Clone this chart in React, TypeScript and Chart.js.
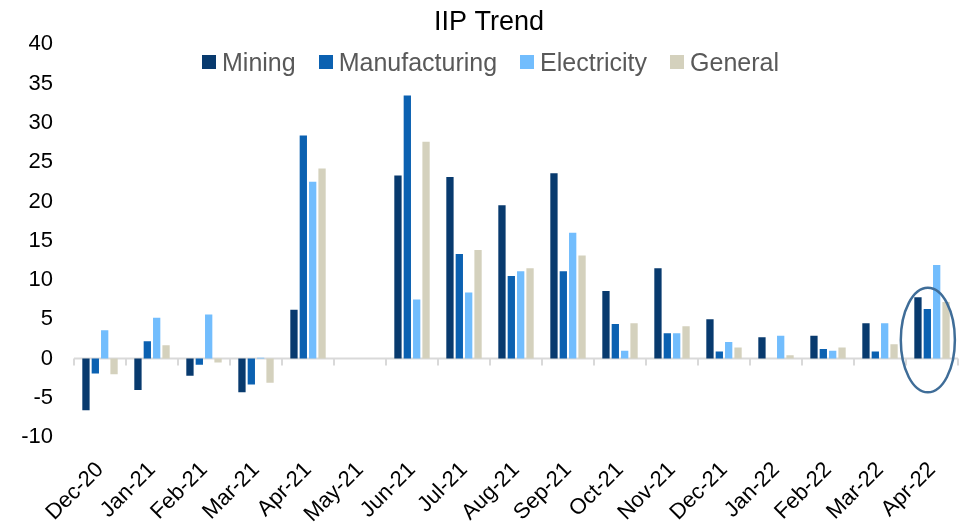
import React, { useEffect, useRef } from "react";
import { Chart, registerables } from "chart.js";

Chart.register(...registerables);

const TITLE = "IIP Trend";
const categories = [
  "Dec-20", "Jan-21", "Feb-21", "Mar-21", "Apr-21", "May-21", "Jun-21", "Jul-21",
  "Aug-21", "Sep-21", "Oct-21", "Nov-21", "Dec-21", "Jan-22", "Feb-22", "Mar-22", "Apr-22",
];
const seriesNames = ["Mining", "Manufacturing", "Electricity", "General"];
const seriesColors = ["#083a6e", "#0b61b1", "#72bdfd", "#d4d1bd"];
const mining = [-6.6, -4.0, -2.2, -4.3, 6.2, null, 23.3, 23.1, 19.5, 23.6, 8.6, 11.5, 5.0, 2.7, 2.9, 4.5, 7.8];
const manufacturing = [-1.9, 2.2, -0.8, -3.3, 28.4, null, 33.5, 13.3, 10.5, 11.1, 4.4, 3.2, 0.9, 0.0, 1.2, 0.9, 6.3];
const electricity = [3.6, 5.2, 5.6, 0.1, 22.5, null, 7.5, 8.4, 11.1, 16.0, 1.0, 3.2, 2.1, 2.9, 1.0, 4.5, 11.9];
const general = [-2.0, 1.7, -0.5, -3.1, 24.2, null, 27.6, 13.8, 11.5, 13.1, 4.5, 4.1, 1.4, 0.4, 1.4, 1.8, 7.2];
const yMin = -10;
const yMax = 40;
const yStep = 5;

// highlight ellipse around the latest month
const highlightCategory = "Apr-22";
const highlightYRange = [-4.3, 9.0];
const highlightHalfWidth = 0.52; // in category widths
const highlightXShift = -0.08; // in category widths

const FONT = "'Liberation Sans', Arial, sans-serif";

const zeroAxisPlugin = {
  id: "zeroAxis",
  beforeDatasetsDraw(chart: any) {
    const { ctx, chartArea } = chart;
    const y = chart.scales.y;
    const y0 = y.getPixelForValue(0);
    const n = categories.length;
    const w = (chartArea.right - chartArea.left) / n;
    ctx.save();
    ctx.strokeStyle = "#d9d9d9";
    ctx.lineWidth = 2;
    ctx.beginPath();
    ctx.moveTo(chartArea.left, y0);
    ctx.lineTo(chartArea.right, y0);
    for (let i = 0; i <= n; i++) {
      const px = Math.round(chartArea.left + i * w);
      ctx.moveTo(px, y0);
      ctx.lineTo(px, y0 + 7);
    }
    ctx.stroke();
    ctx.restore();
  },
};

const highlightPlugin = {
  id: "highlight",
  afterDatasetsDraw(chart: any) {
    const { ctx, chartArea } = chart;
    const x = chart.scales.x;
    const y = chart.scales.y;
    const idx = categories.indexOf(highlightCategory);
    const w = (chartArea.right - chartArea.left) / categories.length;
    const cx = x.getPixelForValue(idx) + highlightXShift * w;
    const top = y.getPixelForValue(highlightYRange[1]);
    const bottom = y.getPixelForValue(highlightYRange[0]);
    ctx.save();
    ctx.strokeStyle = "#3f6d98";
    ctx.lineWidth = 2.5;
    ctx.beginPath();
    ctx.ellipse(cx, (top + bottom) / 2, highlightHalfWidth * w, (bottom - top) / 2, 0, 0, Math.PI * 2);
    ctx.stroke();
    ctx.restore();
  },
};

export default function App() {
  const ref = useRef<HTMLCanvasElement>(null);

  useEffect(() => {
    const data = [mining, manufacturing, electricity, general];
    const chart = new Chart(ref.current as HTMLCanvasElement, {
      type: "bar",
      data: {
        labels: categories,
        datasets: seriesNames.map((name, i) => ({
          label: name,
          data: data[i],
          backgroundColor: seriesColors[i],
          borderWidth: 0,
          categoryPercentage: 0.72,
          barPercentage: 0.78,
        })),
      },
      options: {
        animation: false,
        responsive: false,
        layout: { padding: { left: 20, right: 4, top: 0, bottom: 0 } },
        plugins: {
          legend: { display: false },
          tooltip: { enabled: false },
          title: {
            display: true,
            text: TITLE,
            color: "#000",
            font: { family: FONT, size: 27, weight: "normal" },
            padding: { top: 6, bottom: 6 },
          },
        },
        scales: {
          x: {
            grid: { display: false, drawTicks: false },
            border: { display: false },
            ticks: {
              color: "#000",
              font: { family: FONT, size: 22 },
              maxRotation: 45,
              minRotation: 45,
              padding: 20,
              autoSkip: false,
            },
            afterFit(scale: any) {
              scale.paddingLeft = 0;
              scale.paddingRight = 0;
              scale.height = 89;
            },
          },
          y: {
            min: yMin,
            max: yMax,
            grid: { display: false, drawTicks: false },
            border: { display: false },
            ticks: {
              stepSize: yStep,
              color: "#000",
              font: { family: FONT, size: 22 },
              padding: 21,
            },
            afterFit(scale: any) {
              scale.width = 54;
            },
          },
        },
      },
      plugins: [zeroAxisPlugin, highlightPlugin],
    });
    return () => chart.destroy();
  }, []);

  return (
    <div style={{ position: "fixed", left: 0, top: 0, width: 962, height: 526, background: "#fff" }}>
      <canvas ref={ref} width={962} height={526} style={{ display: "block" }} />
      <div
        style={{
          position: "absolute",
          left: 202,
          top: 48,
          display: "flex",
          alignItems: "center",
          fontFamily: FONT,
          fontSize: 25,
          lineHeight: "28px",
          color: "#595959",
          whiteSpace: "nowrap",
        }}
      >
        {seriesNames.map((name, i) => (
          <div key={name} style={{ display: "flex", alignItems: "center", marginRight: 23 }}>
            <span style={{ width: 14, height: 14, background: seriesColors[i], marginRight: 6, display: "inline-block" }} />
            <span>{name}</span>
          </div>
        ))}
      </div>
    </div>
  );
}
